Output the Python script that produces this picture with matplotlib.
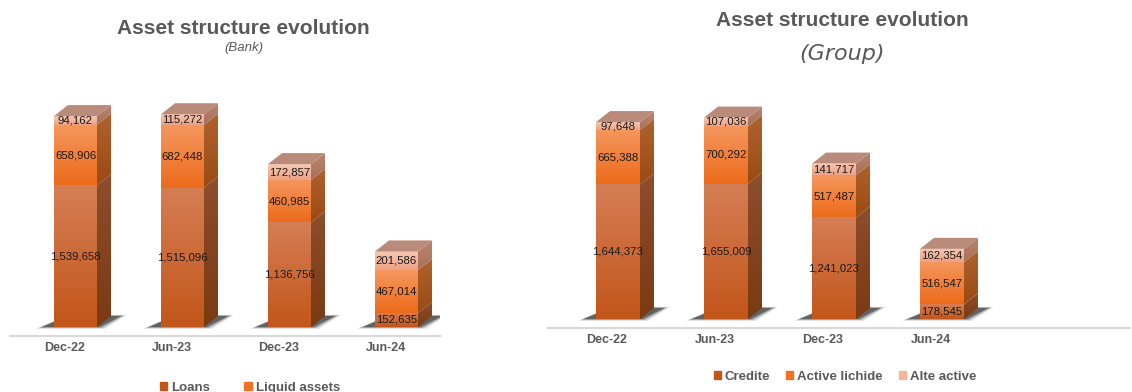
import numpy as np
import matplotlib.pyplot as plt
from matplotlib.patches import Polygon, Patch
from matplotlib.colors import to_rgb

plt.rcParams['font.family'] = ['Liberation Sans', 'DejaVu Sans']

periods = ['Dec-22', 'Jun-23', 'Dec-23', 'Jun-24']
bank_loans = [1539658, 1515096, 1136756, 152635]
bank_liquid = [658906, 682448, 460985, 467014]
bank_other = [94162, 115272, 172857, 201586]
group_credite = [1644373, 1655009, 1241023, 178545]
group_lichide = [665388, 700292, 517487, 516547]
group_alte = [97648, 107036, 141717, 162354]

W, H = 1132, 392
fig = plt.figure(figsize=(W / 100, H / 100), dpi=100)

# front top, front bottom, side top, side bottom
seg_cols = [('#d57e55', '#c3561a', '#8e4d2c', '#7a3a12'),
            ('#f5975f', '#ec6b1b', '#b0622e', '#9a4a14'),
            ('#f7c8b4', '#eda184', '#b98570', '#a9705a')]
top_col = '#b98b7b'
legend_cols = ['#c0561a', '#ee7326', '#f3b59c']
grey = '#595959'


def grad_fill(ax, verts, c_top, c_bot, z):
    poly = Polygon(verts, closed=True, facecolor='none', edgecolor='none')
    ax.add_patch(poly)
    xs = [v[0] for v in verts]
    ys = [v[1] for v in verts]
    t = np.linspace(0, 1, 64)[:, None, None]
    img = np.array(to_rgb(c_bot)) * (1 - t) + np.array(to_rgb(c_top)) * t
    ax.imshow(img, extent=(min(xs), max(xs), min(ys), max(ys)), origin='lower',
              aspect='auto', interpolation='bilinear', clip_path=poly, zorder=z)


def panel(left, right, floor_px, base_px, top_px, c0_px, step_px, upx,
          bar_px, series):
    # upx: data units per pixel (vertical)
    ax = fig.add_axes([left / W, 1 - floor_px / H, (right - left) / W,
                       (floor_px - top_px) / H])
    xlim = ((left - c0_px) / step_px, (right - c0_px) / step_px)
    ylim = (-(floor_px - base_px) * upx, (base_px - top_px) * upx)
    ux = 1.0 / step_px
    hw = bar_px / 2 * ux
    dx, dy = 14 * ux, 11 * upx
    for i in range(len(periods)):
        xl, xr = i - hw, i + hw
        vals = [s[i] for s in series]
        tot = sum(vals)
        # soft floor shadow
        for k, a in enumerate([0.12, 0.2, 0.35, 0.45]):
            g = (3 - k) * 2
            sh = [(xl - (12 + g) * ux, -g * 0.3 * upx), (xr + (2 + g) * ux, -g * 0.3 * upx),
                  (xr + dx + (10 + g) * ux, dy + g * 0.2 * upx), (xl + dx, dy + g * 0.2 * upx)]
            ax.add_patch(Polygon(sh, closed=True, facecolor='#2e2e2e',
                                 edgecolor='none', alpha=a, zorder=1))
        b = 0
        for j, v in enumerate(vals):
            ft, fb, st, sb = seg_cols[j]
            grad_fill(ax, [(xl, b), (xr, b), (xr, b + v), (xl, b + v)], ft, fb, 3)
            grad_fill(ax, [(xr, b), (xr + dx, b + dy), (xr + dx, b + v + dy), (xr, b + v)],
                      st, sb, 3)
            ax.text(i, b + v / 2, f'{v:,}', ha='center', va='center',
                    fontsize=8.2, color='#1a1a1a', zorder=5)
            b += v
        ax.add_patch(Polygon([(xl, tot), (xr, tot), (xr + dx, tot + dy), (xl + dx, tot + dy)],
                             closed=True, facecolor=top_col, edgecolor='none', zorder=3))
        ax.text(i - 11 * ux, -15 * upx, periods[i], ha='center', va='top',
                fontsize=9, fontweight='bold', color=grey, transform=ax.transData,
                clip_on=False)
    ax.set_xlim(*xlim)
    ax.set_ylim(*ylim)
    for s in ['top', 'left', 'right']:
        ax.spines[s].set_visible(False)
    ax.spines['bottom'].set_color('#d9d9d9')
    ax.spines['bottom'].set_linewidth(1.5)
    ax.set_xticks([])
    ax.set_yticks([])
    ax.patch.set_alpha(0)
    return ax


panel(10, 440, 336, 327, 60, 75.5, 107, 1 / 9.2e-5, 43,
      [bank_loans, bank_liquid, bank_other])
panel(548, 1130, 328, 319, 60, 618, 108, 1 / 8.18e-5, 44,
      [group_credite, group_lichide, group_alte])

fig.text(243 / W, 1 - 28 / H, 'Asset structure evolution', ha='center', va='center',
         fontsize=15, fontweight='bold', color=grey)
fig.text(244 / W, 1 - 48 / H, '(Bank)', ha='center', va='center',
         fontsize=9.5, style='italic', color=grey)
fig.text(842 / W, 1 - 21 / H, 'Asset structure evolution', ha='center', va='center',
         fontsize=15, fontweight='bold', color=grey)
fig.text(842 / W, 1 - 54 / H, '(Group)', ha='center', va='center',
         fontsize=16, style='italic', color=grey, family='DejaVu Sans')

lkw = dict(loc='center', frameon=False, handlelength=0.55, handleheight=0.55,
           handletextpad=0.3, prop={'weight': 'bold', 'size': 9.5},
           labelcolor=grey, borderpad=0)
fig.legend([Patch(color=legend_cols[0]), Patch(color=legend_cols[1])],
           ['Loans', 'Liquid assets'], ncol=2, columnspacing=2.6,
           bbox_to_anchor=(250 / W, 1 - 388 / H), **lkw)
fig.legend([Patch(color=c) for c in legend_cols],
           ['Credite', 'Active lichide', 'Alte active'], ncol=3, columnspacing=1.2,
           bbox_to_anchor=(845 / W, 1 - 377 / H), **lkw)

fig.savefig('out.png', dpi=100)
